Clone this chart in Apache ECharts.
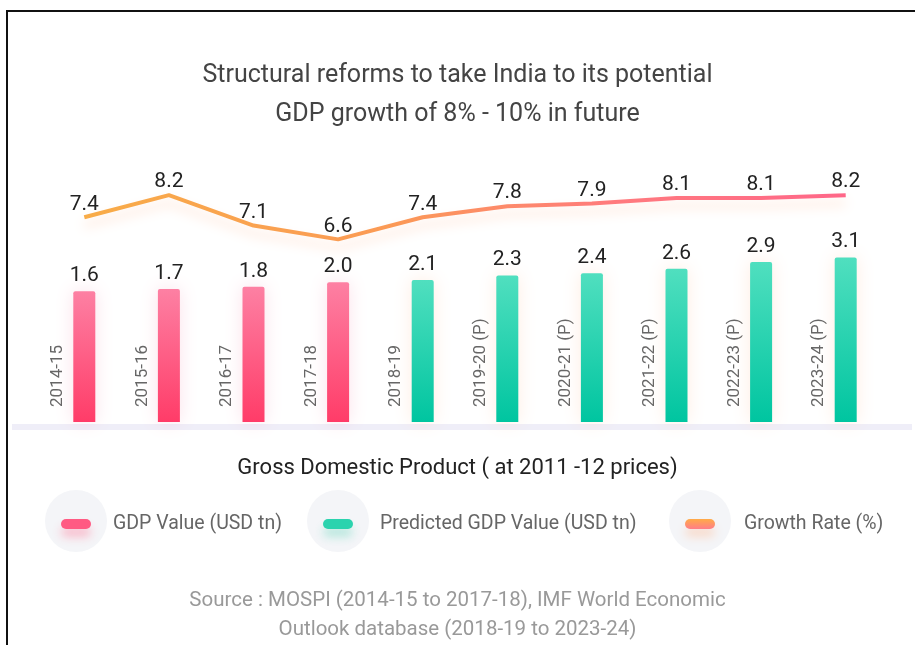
<!DOCTYPE html>
<html><head><meta charset="utf-8">
<script src="https://cdn.jsdelivr.net/npm/echarts@6/dist/echarts.min.js"></script>
<style>html,body{margin:0;padding:0;background:#fff}#c{width:915px;height:645px}</style>
</head><body><div id="c"></div>
<script>
const categories = ['2014-15','2015-16','2016-17','2017-18','2018-19','2019-20 (P)','2020-21 (P)','2021-22 (P)','2022-23 (P)','2023-24 (P)'];
const gdpActual = [1.6, 1.7, 1.8, 2.0];
const gdpPredicted = [2.1, 2.3, 2.4, 2.6, 2.9, 3.1];
const growthRate = [7.4, 8.2, 7.1, 6.6, 7.4, 7.8, 7.9, 8.1, 8.1, 8.2];
const seriesNames = ['GDP Value (USD tn)', 'Predicted GDP Value (USD tn)', 'Growth Rate (%)'];
const titleLines = ['Structural reforms to take India to its potential', 'GDP growth of 8% - 10% in future'];
const subTitle = 'Gross Domestic Product ( at 2011 -12 prices)';
const sourceLines = ['Source : MOSPI (2014-15 to 2017-18), IMF World Economic', 'Outlook database (2018-19 to 2023-24)'];

const actualData = categories.map((c, i) => i < gdpActual.length ? gdpActual[i] : '-');
const predictedData = categories.map((c, i) => i >= gdpActual.length ? gdpPredicted[i - gdpActual.length] : '-');

const FONT = 'Roboto';
const G = echarts.graphic;
const pinkGrad = new G.LinearGradient(0, 0, 0, 1, [{offset: 0, color: '#fd80a3'}, {offset: 1, color: '#ff3c68'}]);
const greenGrad = new G.LinearGradient(0, 0, 0, 1, [{offset: 0, color: '#50dfbf'}, {offset: 1, color: '#00c5a0'}]);
const lineGrad = new G.LinearGradient(0, 0, 1, 0, [{offset: 0, color: '#f8ac48'}, {offset: 0.4, color: '#fb9a55'}, {offset: 0.7, color: '#ff7a7e'}, {offset: 1, color: '#ff6688'}]);
const legendLineGrad = new G.LinearGradient(0, 0, 0, 1, [{offset: 0, color: '#ffab48'}, {offset: 1, color: '#ff7d88'}]);
const pill = 'path://M5,0 L25,0 A5,5 0 0 1 25,10 L5,10 A5,5 0 0 1 5,0 Z';
const fmt1 = p => Number(p.value).toFixed(1);

function legendOf(name, left, textPad, color, shadow) {
  return {
    data: [{name: name, itemStyle: {color: color, shadowBlur: 10, shadowOffsetY: 8, shadowColor: shadow}}],
    left: left, top: 514, orient: 'horizontal', padding: 0,
    icon: pill, itemWidth: 30, itemHeight: 10, selectedMode: false,
    textStyle: {fontFamily: FONT, fontSize: 19.5, color: '#666', padding: [0, 0, 0, textPad]}
  };
}

const option = {
  backgroundColor: '#fff',
  animation: false,
  title: [
    {text: titleLines.join('\n'), left: 'center', top: 56, padding: 0,
     textStyle: {fontFamily: FONT, fontSize: 25, fontWeight: 'normal', color: '#444', lineHeight: 39}},
    {text: subTitle, left: 'center', top: 454, padding: 0,
     textStyle: {fontFamily: FONT, fontSize: 22, fontWeight: 'normal', color: '#222', lineHeight: 28}},
    {text: sourceLines.join('\n'), left: 'center', top: 586, padding: 0,
     textStyle: {fontFamily: FONT, fontSize: 20.5, fontWeight: 'normal', color: '#999', lineHeight: 29}}
  ],
  graphic: [
    {type: 'polyline', shape: {points: [[7, 645], [7, 11], [915, 11]]}, style: {stroke: '#111', lineWidth: 2, fill: null}, z: 10},
    {type: 'rect', shape: {x: 12, y: 424, width: 900, height: 6}, style: {fill: '#efeef8'}, z: 0},
    {type: 'circle', shape: {cx: 76, cy: 521, r: 31}, style: {fill: '#f4f5f8'}, z: 0},
    {type: 'circle', shape: {cx: 338, cy: 521, r: 31}, style: {fill: '#f4f5f8'}, z: 0},
    {type: 'circle', shape: {cx: 700, cy: 521, r: 31}, style: {fill: '#f4f5f8'}, z: 0}
  ],
  legend: [
    legendOf(seriesNames[0], 61, 17, '#ff5a83', 'rgba(255,80,120,0.35)'),
    legendOf(seriesNames[1], 323, 22, '#2bd3ae', 'rgba(40,200,160,0.3)'),
    legendOf(seriesNames[2], 685, 24, legendLineGrad, 'rgba(255,170,120,0.35)')
  ],
  grid: {left: 42, right: 27, top: 173, bottom: 223, containLabel: false},
  xAxis: {
    type: 'category', data: categories,
    axisLine: {show: false}, axisTick: {show: false},
    axisLabel: {inside: true, rotate: 90, interval: 0, margin: 15, verticalAlign: 'bottom', align: 'left',
      padding: [0, 0, 18, 0], fontFamily: FONT, fontSize: 17, color: '#666'}
  },
  yAxis: [
    {type: 'value', min: -4.2, max: 6.85, startValue: -4.2, show: false, splitLine: {show: false}},
    {type: 'value', min: 0, max: 9, show: false, splitLine: {show: false}}
  ],
  series: [
    {name: seriesNames[0], type: 'bar', yAxisIndex: 0, data: actualData, barWidth: 22, barGap: '-100%',
     itemStyle: {color: pinkGrad, borderRadius: [2, 2, 0, 0], shadowBlur: 18, shadowColor: 'rgba(240,120,160,0.22)'},
     label: {show: true, position: 'top', distance: 5, formatter: fmt1, fontFamily: FONT, fontSize: 21, color: '#222'}},
    {name: seriesNames[1], type: 'bar', yAxisIndex: 0, data: predictedData, barWidth: 22, barGap: '-100%',
     itemStyle: {color: greenGrad, borderRadius: [2, 2, 0, 0], shadowBlur: 18, shadowColor: 'rgba(255,190,150,0.28)'},
     label: {show: true, position: 'top', distance: 5, formatter: fmt1, fontFamily: FONT, fontSize: 21, color: '#222'}},
    {name: seriesNames[2], type: 'line', yAxisIndex: 1, data: growthRate, smooth: false,
     symbol: 'circle', symbolSize: 1, itemStyle: {color: 'rgba(0,0,0,0)'},
     lineStyle: {color: lineGrad, width: 4, shadowBlur: 12, shadowOffsetY: 8, shadowColor: 'rgba(250,160,110,0.3)'},
     label: {show: true, position: 'top', distance: 2, formatter: fmt1, fontFamily: FONT, fontSize: 21, color: '#222'}}
  ]
};
const chart = echarts.init(document.getElementById('c'));
chart.setOption(option);
</script></body></html>
